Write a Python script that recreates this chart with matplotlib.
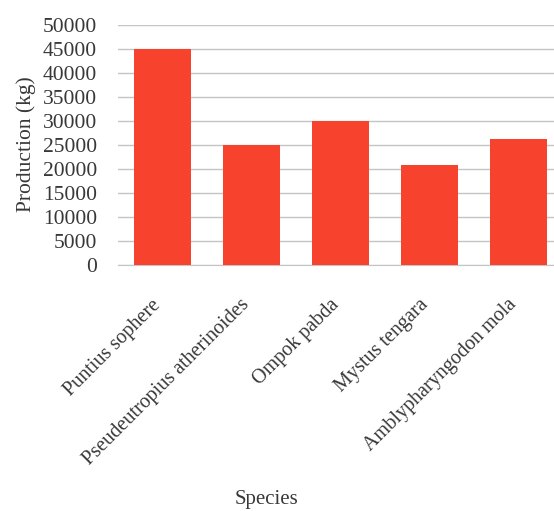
import matplotlib
matplotlib.use("Agg")
import matplotlib.pyplot as plt
from matplotlib.transforms import ScaledTranslation

# production per species (kg)
species = ["Puntius sophere", "Pseudeutropius atherinoides", "Ompok pabda",
           "Mystus tengara", "Amblypharyngodon mola"]
production = [45000, 25000, 30000, 20800, 26200]
yticks = list(range(0, 50001, 5000))

plt.rcParams["font.family"] = ["Liberation Serif", "DejaVu Serif"]
TXT = "#383838"

fig = plt.figure(figsize=(5.54, 5.11), dpi=100)
# axes run a little past the right edge of the figure
ax = fig.add_axes([118 / 554, 1 - 265 / 511, 445 / 554, 240 / 511])

x = range(len(species))
ax.bar(x, production, width=0.65, color="#f7422d", zorder=3)

ax.set_xlim(-0.5, len(species) - 0.5)
ax.set_ylim(0, 50000)
ax.set_yticks(yticks)
ax.set_yticklabels([str(v) for v in yticks], fontsize=15.5, color=TXT)
ax.set_xticks(list(x))
ax.set_xticklabels(species, rotation=45, ha="right", rotation_mode="anchor",
                   fontsize=14.5, color=TXT)
ax.tick_params(axis="both", length=0)
ax.tick_params(axis="y", pad=15)
ax.tick_params(axis="x", pad=22)
# nudge the slanted names so they end right under their bars
shift = ScaledTranslation(-8 / 72, 0, fig.dpi_scale_trans)
for lab in ax.get_xticklabels():
    lab.set_transform(lab.get_transform() + shift)

ax.grid(axis="y", color="#c4c4c4", linewidth=1, zorder=0)
for side in ["left", "right", "top"]:
    ax.spines[side].set_visible(False)
ax.spines["bottom"].set_color("#c4c4c4")

fig.text(26 / 554, 1 - 144 / 511, "Production (kg)", fontsize=15.5, color=TXT,
         rotation=90, ha="center", va="center")
fig.text(266 / 554, 1 - 499 / 511, "Species", fontsize=15, color=TXT,
         ha="center", va="center")

plt.savefig("out.png", dpi=100)
plt.close()
